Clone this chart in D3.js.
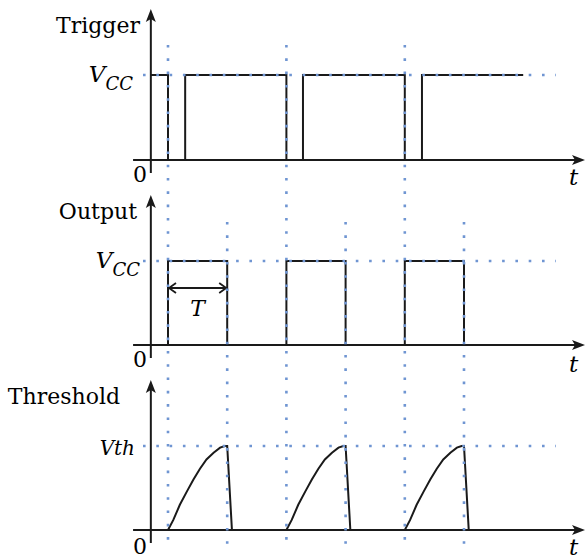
<html>
<script src="https://d3js.org/d3.v7.min.js"></script>
<body style="margin:0;background:#fff"></body>
<script>
const width = 585;
const height = 560;

// panels, top to bottom
const panelNames = ['Trigger', 'Output', 'Threshold'];
const levelNames = [['V', 'CC'], ['V', 'CC'], ['Vth', '']];

// dotted time marks (first, third, fifth run through all three panels)
const markTimes = [1, 2, 3, 4, 5, 6];
const longMarks = [1, 3, 5];

// trigger signal, level 1 = Vcc
const triggerTime  = [0.71, 1, 1, 1.29, 1.29, 3, 3, 3.28, 3.28, 5, 5, 5.29, 5.29, 7];
const triggerLevel = [1, 1, 0, 0, 1, 1, 0, 0, 1, 1, 0, 0, 1, 1];

// output pulses, width T
const outputTime  = [1, 1, 2, 2, 3, 3, 4, 4, 5, 5, 6, 6];
const outputLevel = [0, 1, 1, 0, 0, 1, 1, 0, 0, 1, 1, 0];

// threshold (capacitor) voltage, level 1 = Vth
const thresholdTime = [
    1, 1.09, 1.20, 1.32, 1.43, 1.54, 1.65, 1.77, 1.88, 1.96, 2, 2.08,
    3, 3.09, 3.20, 3.32, 3.43, 3.54, 3.65, 3.77, 3.88, 3.96, 4, 4.08,
    5, 5.09, 5.20, 5.32, 5.43, 5.54, 5.65, 5.77, 5.88, 5.96, 6, 6.08
];
const thresholdLevel = [
    0, 0.12, 0.30, 0.46, 0.60, 0.73, 0.84, 0.92, 0.98, 1, 1, 0,
    0, 0.12, 0.30, 0.46, 0.60, 0.73, 0.84, 0.92, 0.98, 1, 1, 0,
    0, 0.12, 0.30, 0.46, 0.60, 0.73, 0.84, 0.92, 0.98, 1, 1, 0
];

const signals = [
    d3.zip(triggerTime, triggerLevel),
    d3.zip(outputTime, outputLevel),
    d3.zip(thresholdTime, thresholdLevel)
];

const ink = '#1a1a1a';
const dotColor = '#6f95d2';
const serif = 'DejaVu Serif';

const x = d3.scaleLinear().domain([1, 6]).range([168, 464]);
const axisX = x(0.71);

// baseline / level pixel rows for each panel
const panelY = [
    d3.scaleLinear().domain([0, 1]).range([160, 75]),
    d3.scaleLinear().domain([0, 1]).range([345, 261]),
    d3.scaleLinear().domain([0, 1]).range([530, 446])
];
const nameRight = [140, 137, 120];
const levelRight = [133, 140, 135];

const svg = d3.select('body').append('svg')
    .attr('width', width)
    .attr('height', height)
    .style('display', 'block');

const line = d3.line().x(d => x(d[0]));

panelY.forEach((y, i) => {
    const g = svg.append('g');
    const base = y(0);
    const top = y(1) - 66;

    // axes
    g.append('line')
        .attr('x1', x(0.41)).attr('x2', width - 8)
        .attr('y1', base).attr('y2', base)
        .attr('stroke', ink).attr('stroke-width', 2);
    g.append('path')
        .attr('d', `M${width},${base} L${width - 13},${base - 5} L${width - 10},${base} L${width - 13},${base + 5} Z`)
        .attr('fill', ink);
    g.append('line')
        .attr('x1', axisX).attr('x2', axisX)
        .attr('y1', base + 13).attr('y2', top + 8)
        .attr('stroke', ink).attr('stroke-width', 2);
    g.append('path')
        .attr('d', `M${axisX},${top} L${axisX - 5},${top + 13} L${axisX},${top + 10} L${axisX + 5},${top + 13} Z`)
        .attr('fill', ink);

    // signal
    g.append('path')
        .attr('d', line.y(d => y(d[1]))(signals[i]))
        .attr('fill', 'none')
        .attr('stroke', ink)
        .attr('stroke-width', 2)
        .attr('stroke-linejoin', 'miter');

    // texts
    g.append('text')
        .attr('x', nameRight[i]).attr('y', y(1) - 42)
        .attr('text-anchor', 'end')
        .attr('font-family', serif).attr('font-size', 22)
        .text(panelNames[i]);

    const lv = g.append('text')
        .attr('x', levelRight[i]).attr('y', y(1) + (i == 2 ? 9 : 7))
        .attr('text-anchor', 'end')
        .attr('font-family', serif).attr('font-style', 'italic')
        .attr('font-size', i == 2 ? 20 : 23);
    lv.append('tspan').text(levelNames[i][0]);
    if (levelNames[i][1]) {
        lv.append('tspan').attr('dy', 8).attr('font-size', 18).text(levelNames[i][1]);
    }

    g.append('text')
        .attr('x', 147).attr('y', base + (i == 2 ? 24 : 22))
        .attr('text-anchor', 'end')
        .attr('font-family', serif).attr('font-size', 22)
        .text('0');

    g.append('text')
        .attr('x', 569).attr('y', base + (i == 0 ? 25 : (i == 1 ? 27 : 25)))
        .attr('font-family', serif).attr('font-style', 'italic').attr('font-size', 23)
        .text('t');

    // dotted level line
    g.append('line')
        .attr('x1', 143).attr('x2', 556)
        .attr('y1', y(1)).attr('y2', y(1))
        .attr('stroke', dotColor).attr('stroke-width', 2.6)
        .attr('stroke-dasharray', '2.6 10.7');
});

// pulse width marker on the output panel
const yT = 288;
const tMark = svg.append('g').attr('stroke', ink).attr('stroke-width', 1.8).attr('fill', 'none');
tMark.append('line').attr('x1', x(1) + 1).attr('x2', x(2) - 1).attr('y1', yT).attr('y2', yT);
tMark.append('path').attr('d', `M${x(1) + 8},${yT - 5} L${x(1) + 1},${yT} L${x(1) + 8},${yT + 5}`);
tMark.append('path').attr('d', `M${x(2) - 8},${yT - 5} L${x(2) - 1},${yT} L${x(2) - 8},${yT + 5}`);
svg.append('text')
    .attr('x', (x(1) + x(2)) / 2).attr('y', 316)
    .attr('text-anchor', 'middle')
    .attr('font-family', serif).attr('font-style', 'italic').attr('font-size', 22)
    .text('T');

// dotted time marks
svg.append('g').selectAll('line')
    .data(markTimes)
    .join('line')
        .attr('x1', d => x(d)).attr('x2', d => x(d))
        .attr('y1', d => longMarks.includes(d) ? 45 : 222)
        .attr('y2', 549)
        .attr('stroke', dotColor)
        .attr('stroke-width', 2.6)
        .attr('stroke-dasharray', '2.6 10.7');
</script>
</html>
